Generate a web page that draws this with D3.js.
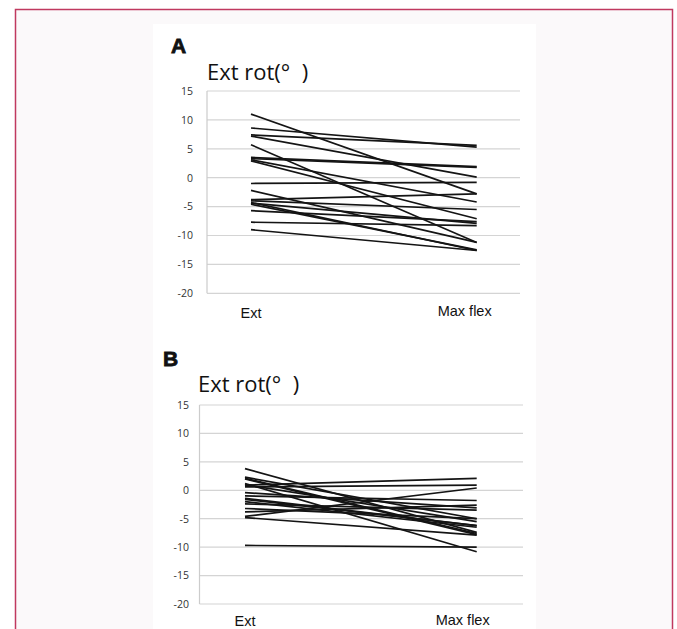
<!DOCTYPE html>
<html>
<head>
<meta charset="utf-8">
<script src="https://cdn.jsdelivr.net/npm/d3@7"></script>
<style>
  html, body { margin: 0; padding: 0; background: #ffffff; }
  svg { display: block; }
  .tick-label { font-family: "Open Sans", "Noto Sans", sans-serif; font-size: 10.5px; fill: #333; }
  .cat-label { font-family: "Liberation Sans", Arial, sans-serif; font-size: 14.5px; fill: #111; }
  .title { font-family: "Open Sans", "Noto Sans", sans-serif; font-size: 22px; fill: #111; }
  .panel-tag { font-family: "Liberation Sans", Arial, sans-serif; font-size: 21px; font-weight: bold; fill: #111; stroke: #111; stroke-width: 0.8px; }
</style>
</head>
<body>
<svg id="fig" width="677" height="629"></svg>
<script>
// ================= DATOS =================
const categorias = ["Ext", "Max flex"];
const ticks = [15, 10, 5, 0, -5, -10, -15, -20];

// panel A: valor en Ext y en Max flex (cada indice es un paciente)
const extA  = [11, 8.6, 7.4, 7.2, 5.7, 3.5, 3.3, 3.1, 2.9, -1.0, -2.2, -3.8, -4.0, -4.3, -4.4, -4.6, -5.7, -7.7, -9.0];
const flexA = [-2.8, 5.3, 5.6, 0.1, -11.2, 1.9, 1.8, -4.2, -7.1, -0.8, -11.2, -2.8, -5.5, -12.6, -7.9, -12.5, -7.6, -8.3, -12.6];

// panel B
const extB  = [3.8, 2.3, 2.1, 2.0, 1.2, 1.0, 0.9, 0.6, -0.4, -1.0, -1.4, -1.6, -2.0, -2.4, -3.2, -3.8, -4.6, -4.8, -9.7];
const flexB = [-7.4, -5.0, -7.6, -7.8, -10.8, -5.5, 2.1, 0.9, -3.1, -1.8, -6.2, -6.2, -6.5, -3.5, -5.0, -2.6, 0.4, -7.9, -10.0];

// ================= LIENZO =================
const svg = d3.select("#fig");

// marco exterior
svg.append("rect")
  .attr("x", 15.5).attr("y", 9.5)
  .attr("width", 657).attr("height", 640)
  .attr("fill", "#fbf9fa")
  .attr("stroke", "#c0395f")
  .attr("stroke-width", 1.5);

// fondo blanco de la figura
svg.append("rect")
  .attr("x", 153).attr("y", 24)
  .attr("width", 383).attr("height", 610)
  .attr("fill", "#ffffff");

// ================= PANEL =================
function dibujarPanel(cfg) {
  const g = svg.append("g");

  const y = d3.scaleLinear().domain([-20, 15]).range([cfg.yBottom, cfg.yTop]);
  const x = d3.scalePoint().domain(categorias).range([cfg.xExt, cfg.xFlex]);

  // rejilla horizontal
  g.selectAll("line.grid")
    .data(ticks)
    .enter()
    .append("line")
    .attr("class", "grid")
    .attr("x1", cfg.axisX)
    .attr("x2", cfg.gridEnd)
    .attr("y1", d => y(d))
    .attr("y2", d => y(d))
    .attr("stroke", "#d4d4d4")
    .attr("stroke-width", 1.2);

  // eje vertical
  g.append("line")
    .attr("x1", cfg.axisX).attr("x2", cfg.axisX)
    .attr("y1", y(15)).attr("y2", y(-20))
    .attr("stroke", "#cccccc")
    .attr("stroke-width", 1.2);

  // etiquetas del eje
  g.selectAll("text.tick-label")
    .data(ticks)
    .enter()
    .append("text")
    .attr("class", "tick-label")
    .attr("x", cfg.labelRight)
    .attr("y", d => y(d) + 3.8)
    .attr("text-anchor", "end")
    .text(d => d);

  // lineas de cada paciente
  const pares = cfg.ext.map((v, i) => [v, cfg.flex[i]]);
  g.selectAll("line.serie")
    .data(pares)
    .enter()
    .append("line")
    .attr("class", "serie")
    .attr("x1", x(categorias[0]))
    .attr("x2", x(categorias[1]))
    .attr("y1", d => y(d[0]))
    .attr("y2", d => y(d[1]))
    .attr("stroke", "#141414")
    .attr("stroke-width", 1.7);

  // categorias
  g.selectAll("text.cat-label")
    .data(categorias)
    .enter()
    .append("text")
    .attr("class", "cat-label")
    .attr("x", (d, i) => x(d) + cfg.catShift[i])
    .attr("y", (d, i) => cfg.catY[i])
    .attr("text-anchor", "middle")
    .text(d => d);

  // titulo y letra
  g.append("text")
    .attr("class", "title")
    .attr("x", cfg.titleX).attr("y", cfg.titleY)
    .attr("xml:space", "preserve")
    .text("Ext rot(°  )");

  g.append("text")
    .attr("class", "panel-tag")
    .attr("x", cfg.tagX).attr("y", cfg.tagY)
    .text(cfg.tag);
}

dibujarPanel({
  tag: "A", tagX: 171, tagY: 53,
  titleX: 207, titleY: 80,
  yTop: 91, yBottom: 293.3,
  axisX: 207, gridEnd: 520, labelRight: 193,
  xExt: 251, xFlex: 476.7,
  catShift: [0, -12], catY: [318, 316],
  ext: extA, flex: flexA
});

dibujarPanel({
  tag: "B", tagX: 163, tagY: 366,
  titleX: 198, titleY: 392,
  yTop: 405, yBottom: 604,
  axisX: 199.5, gridEnd: 523, labelRight: 189,
  xExt: 245, xFlex: 476.7,
  catShift: [0, -14], catY: [626, 625],
  ext: extB, flex: flexB
});
</script>
</body>
</html>
